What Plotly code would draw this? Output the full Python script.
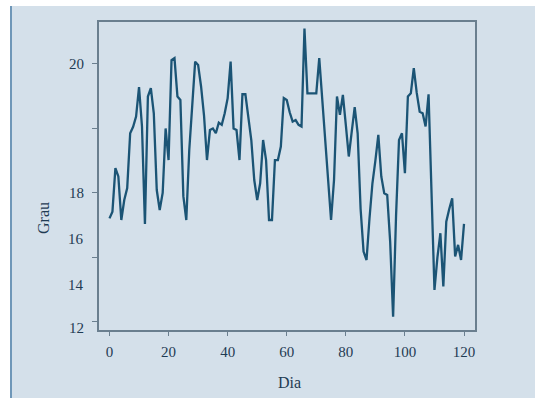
import plotly.graph_objects as go

# Data
dias = list(range(0, 121))
grau = [
    15.21, 15.42, 16.77, 16.51, 15.16, 15.78, 16.15, 17.85, 18.05, 18.37,  # 0-9
    19.28, 18.06, 15.04, 18.99, 19.25, 18.47, 16.09, 15.47, 16.00, 18.00,  # 10-19
    17.02, 20.12, 20.18, 18.99, 18.88, 15.90, 15.16, 17.33, 18.70, 20.07,  # 20-29
    19.97, 19.30, 18.40, 17.02, 17.95, 18.00, 17.85, 18.18, 18.11, 18.47,  # 30-39
    18.94, 20.07, 18.00, 17.95, 17.02, 19.06, 19.06, 18.40, 17.64, 16.40,  # 40-49
    15.78, 16.30, 17.64, 17.02, 15.16, 15.16, 17.02, 17.02, 17.44, 18.94,  # 50-59
    18.88, 18.50, 18.21, 18.26, 18.11, 18.06, 21.10, 19.09, 19.09, 19.09,  # 60-69
    19.09, 20.18, 18.90, 17.50, 16.30, 15.16, 16.40, 18.99, 18.42, 19.04,  # 70-79
    18.10, 17.13, 17.90, 18.66, 17.85, 15.50, 14.18, 13.92, 15.20, 16.30,  # 80-89
    17.00, 17.80, 16.51, 15.99, 15.94, 14.50, 12.16, 15.30, 17.64, 17.85,  # 90-99
    16.61, 18.99, 19.09, 19.87, 19.10, 18.52, 18.47, 18.06, 19.06, 16.30,  # 100-109
    12.99, 14.00, 14.75, 13.10, 15.11, 15.50, 15.83, 14.03, 14.39, 13.92,  # 110-119
    15.04,                                                                 # 120
]
x_ticks = [0, 20, 40, 60, 80, 100, 120]
y_tick_marks = [20, 18, 16, 14, 12]
y_tick_labels = ["20", "18", "16", "14", "12"]

BG = "#d4e0ea"
AXIS = "#6a7f8f"
TXT = "#1f3b53"
LINE = "#1b5475"
FONT = "Liberation Serif"

fig = go.Figure()
fig.add_trace(go.Scatter(
    x=dias, y=grau, mode="lines",
    line=dict(color=LINE, width=2.3),
    hoverinfo="skip", showlegend=False,
))

W, H = 535, 398
L, R, T, B = 99, 60, 22, 68
pw, ph = W - L - R, H - T - B


def px_x(p):
    return (p - L) / pw


def px_y(p):
    return (H - B - p) / ph


fig.update_layout(
    width=W, height=H,
    margin=dict(l=L, r=R, t=T, b=B),
    paper_bgcolor=BG, plot_bgcolor=BG,
    font=dict(family=FONT, color=TXT, size=15),
    xaxis=dict(
        range=[-3.55, 123.72], tickvals=x_ticks,
        showline=True, linecolor=AXIS, linewidth=1.5, mirror=True,
        ticks="outside", ticklen=4, tickcolor=AXIS, tickwidth=1,
        showgrid=False, zeroline=False,
        tickfont=dict(family=FONT, color=TXT, size=15),
        ticklabelstandoff=3,
    ),
    yaxis=dict(
        range=[11.75, 21.30], tickvals=y_tick_marks,
        showticklabels=False,
        showline=True, linecolor=AXIS, linewidth=1.5, mirror=True,
        ticks="outside", ticklen=5, tickcolor=AXIS, tickwidth=1,
        showgrid=False, zeroline=False,
    ),
)

# Y tick labels placed where the reference shows them
label_pixel_y = [64, 193, 239, 285, 328]
for txt, py in zip(y_tick_labels, label_pixel_y):
    fig.add_annotation(
        text=txt, xref="paper", yref="paper",
        x=px_x(86), y=px_y(py), xanchor="right", yanchor="middle",
        showarrow=False, font=dict(family=FONT, color=TXT, size=15),
    )

# Axis titles
fig.add_annotation(text="Dia", xref="paper", yref="paper",
                   x=px_x(289), y=px_y(382), xanchor="center", yanchor="middle",
                   showarrow=False, font=dict(family=FONT, color=TXT, size=16))
fig.add_annotation(text="Grau", xref="paper", yref="paper",
                   x=px_x(43), y=px_y(218), xanchor="center", yanchor="middle",
                   textangle=-90,
                   showarrow=False, font=dict(family=FONT, color=TXT, size=16))

# White margins at top/left and the panel's left border
fig.add_shape(type="rect", xref="paper", yref="paper",
              x0=px_x(0), x1=px_x(W), y0=px_y(6), y1=px_y(0),
              fillcolor="white", line=dict(width=0), layer="below")
fig.add_shape(type="rect", xref="paper", yref="paper",
              x0=px_x(0), x1=px_x(10), y0=px_y(H), y1=px_y(0),
              fillcolor="white", line=dict(width=0), layer="below")
fig.add_shape(type="line", xref="paper", yref="paper",
              x0=px_x(11), x1=px_x(11), y0=px_y(H), y1=px_y(6),
              line=dict(color="#6f97b8", width=2))

fig.write_html("out.html", config={"displayModeBar": False})

# remove the browser's default page margin so the figure sits at (0, 0)
with open("out.html", encoding="utf-8") as f:
    html = f.read()
html = html.replace("<head>", "<head><style>html,body{margin:0;padding:0;}</style>", 1)
with open("out.html", "w", encoding="utf-8") as f:
    f.write(html)
